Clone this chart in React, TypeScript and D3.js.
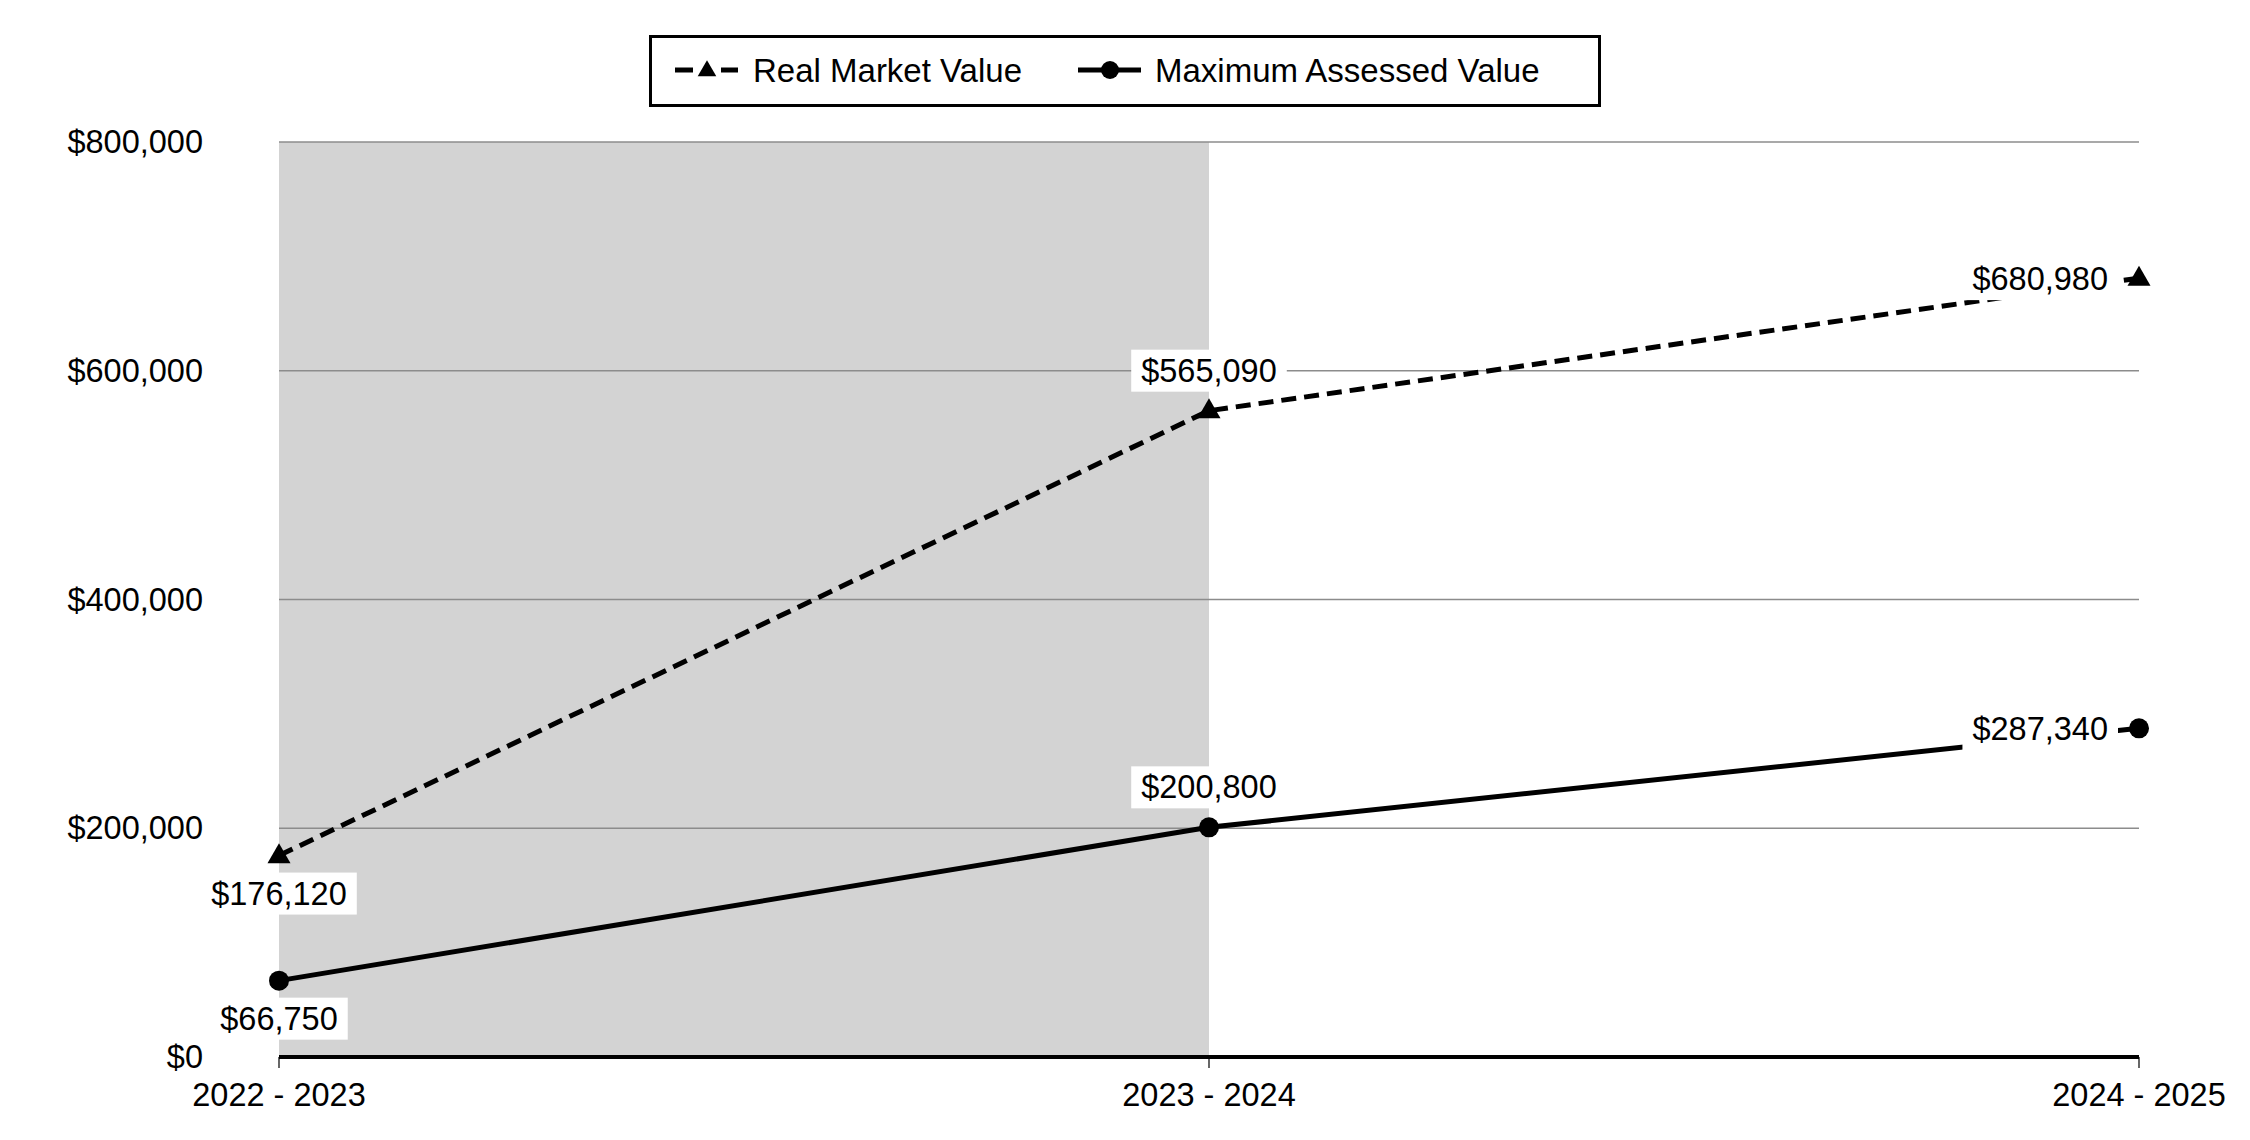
import React, { useEffect, useRef } from "react";
import * as d3 from "d3";

const categories = ["2022 - 2023", "2023 - 2024", "2024 - 2025"];
const realMarketValue = [176120, 565090, 680980];
const maxAssessedValue = [66750, 200800, 287340];
const yTicks = [0, 200000, 400000, 600000, 800000];
const seriesNames = ["Real Market Value", "Maximum Assessed Value"];
const labelPlacement = ["below", "above", "left"];

const W = 2250;
const H = 1140;
const FONT = "Arial, 'Liberation Sans', sans-serif";
const FS = 32.5;
const LFS = 33;

export default function App() {
  const ref = useRef<SVGSVGElement>(null);

  useEffect(() => {
    const svg = d3.select(ref.current);
    svg.selectAll("*").remove();

    const x = d3.scalePoint<string>().domain(categories).range([279, 2139]);
    const y = d3.scaleLinear().domain([0, 800000]).range([1057, 142]);

    // shaded band for first interval
    svg.append("rect")
      .attr("x", x(categories[0])!)
      .attr("y", y(800000))
      .attr("width", x(categories[1])! - x(categories[0])!)
      .attr("height", y(0) - y(800000))
      .attr("fill", "#d3d3d3");

    // gridlines
    svg.append("g").selectAll("line")
      .data(yTicks.filter((d) => d > 0))
      .join("line")
      .attr("x1", x(categories[0])!)
      .attr("x2", x(categories[2])!)
      .attr("y1", (d) => y(d))
      .attr("y2", (d) => y(d))
      .attr("stroke", "#8c8c8c")
      .attr("stroke-width", 1.5);

    // y tick labels
    svg.append("g").selectAll("text")
      .data(yTicks)
      .join("text")
      .attr("x", 203)
      .attr("y", (d) => y(d))
      .attr("text-anchor", "end")
      .attr("dominant-baseline", "central")
      .attr("font-family", FONT)
      .attr("font-size", FS)
      .attr("fill", "#000")
      .text((d) => "$" + d3.format(",")(d));

    // x axis
    svg.append("line")
      .attr("x1", x(categories[0])!)
      .attr("x2", x(categories[2])!)
      .attr("y1", y(0))
      .attr("y2", y(0))
      .attr("stroke", "#000")
      .attr("stroke-width", 4);
    svg.append("g").selectAll("line")
      .data(categories)
      .join("line")
      .attr("x1", (d) => x(d)!)
      .attr("x2", (d) => x(d)!)
      .attr("y1", y(0))
      .attr("y2", y(0) + 11)
      .attr("stroke", "#000")
      .attr("stroke-width", 1.2);
    svg.append("g").selectAll("text")
      .data(categories)
      .join("text")
      .attr("x", (d) => x(d)!)
      .attr("y", 1106)
      .attr("text-anchor", "middle")
      .attr("font-family", FONT)
      .attr("font-size", FS)
      .attr("fill", "#000")
      .text((d) => d);

    const line = d3.line<number>()
      .x((_, i) => x(categories[i])!)
      .y((d) => y(d));

    svg.append("path")
      .attr("d", line(realMarketValue)!)
      .attr("fill", "none")
      .attr("stroke", "#000")
      .attr("stroke-width", 5)
      .attr("stroke-dasharray", "15,8");
    svg.append("path")
      .attr("d", line(maxAssessedValue)!)
      .attr("fill", "none")
      .attr("stroke", "#000")
      .attr("stroke-width", 5);

    const tri = d3.symbol().type(d3.symbolTriangle).size(230);
    svg.append("g").selectAll("path")
      .data(realMarketValue)
      .join("path")
      .attr("d", tri()!)
      .attr("transform", (d, i) => `translate(${x(categories[i])},${y(d) + 1})`)
      .attr("fill", "#000");
    svg.append("g").selectAll("circle")
      .data(maxAssessedValue)
      .join("circle")
      .attr("cx", (_, i) => x(categories[i])!)
      .attr("cy", (d) => y(d))
      .attr("r", 10)
      .attr("fill", "#000");

    // data labels with white boxes
    const addLabels = (vals: number[]) => {
      vals.forEach((v, i) => {
        const px = x(categories[i])!;
        const py = y(v);
        const place = labelPlacement[i];
        const g = svg.append("g");
        const t = g.append("text")
          .attr("font-family", FONT)
          .attr("font-size", FS)
          .attr("fill", "#000")
          .attr("dominant-baseline", "central")
          .text("$" + d3.format(",")(v));
        let tx = px, ty = py, anchor = "middle";
        if (place === "below") { ty = py + 38; }
        else if (place === "above") { ty = py - 40; }
        else { tx = px - 31; ty = py + 1; anchor = "end"; }
        t.attr("x", tx).attr("y", ty).attr("text-anchor", anchor);
        const bb = (t.node() as SVGTextElement).getBBox();
        g.insert("rect", "text")
          .attr("x", bb.x - 10)
          .attr("y", ty - 21)
          .attr("width", bb.width + 20)
          .attr("height", 42)
          .attr("fill", "#fff");
      });
    };
    addLabels(realMarketValue);
    addLabels(maxAssessedValue);

    // legend
    const lg = svg.append("g");
    lg.append("rect")
      .attr("x", 650.5)
      .attr("y", 36.5)
      .attr("width", 949)
      .attr("height", 69)
      .attr("fill", "#fff")
      .attr("stroke", "#000")
      .attr("stroke-width", 3);
    const ly = 70;
    // item 1
    lg.append("line").attr("x1", 675).attr("x2", 693).attr("y1", ly).attr("y2", ly)
      .attr("stroke", "#000").attr("stroke-width", 5);
    lg.append("line").attr("x1", 721).attr("x2", 738).attr("y1", ly).attr("y2", ly)
      .attr("stroke", "#000").attr("stroke-width", 5);
    lg.append("path").attr("d", d3.symbol().type(d3.symbolTriangle).size(150)()!)
      .attr("transform", `translate(707,${ly + 1})`).attr("fill", "#000");
    lg.append("text").attr("x", 753).attr("y", ly)
      .attr("dominant-baseline", "central")
      .attr("font-family", FONT).attr("font-size", LFS).attr("fill", "#000")
      .text(seriesNames[0]);
    // item 2
    lg.append("line").attr("x1", 1078).attr("x2", 1141).attr("y1", ly).attr("y2", ly)
      .attr("stroke", "#000").attr("stroke-width", 5);
    lg.append("circle").attr("cx", 1110).attr("cy", ly).attr("r", 9).attr("fill", "#000");
    lg.append("text").attr("x", 1155).attr("y", ly)
      .attr("dominant-baseline", "central")
      .attr("font-family", FONT).attr("font-size", LFS).attr("fill", "#000")
      .text(seriesNames[1]);
  }, []);

  return (
    <svg
      ref={ref}
      width={W}
      height={H}
      style={{ position: "absolute", left: 0, top: 0, background: "#fff" }}
    />
  );
}
